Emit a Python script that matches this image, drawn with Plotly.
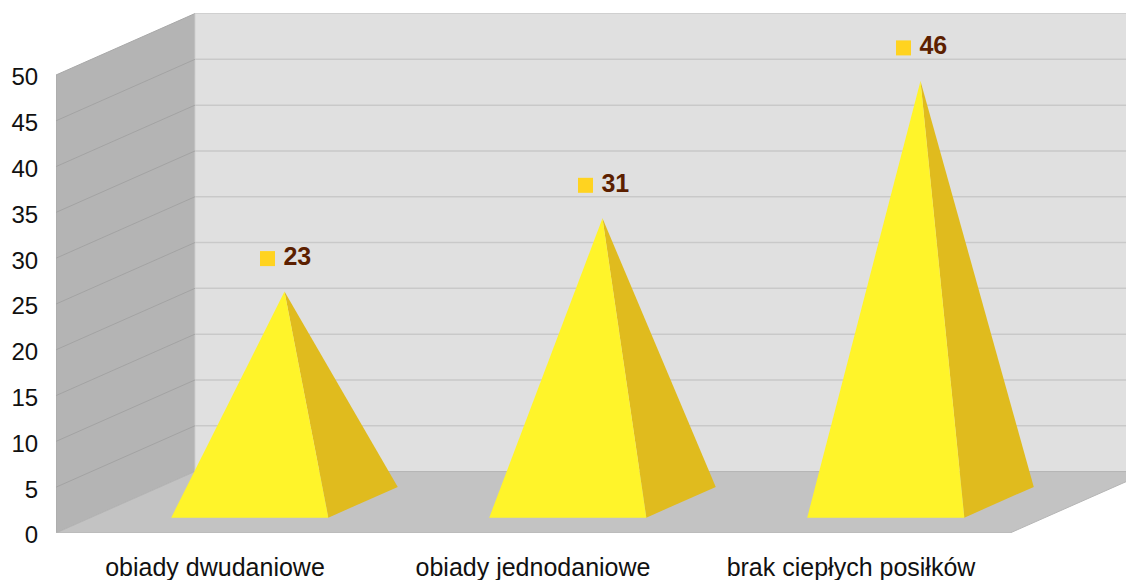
import plotly.graph_objects as go

# ---- data ----
categories = ["obiady dwudaniowe", "obiady jednodaniowe", "brak ciepłych posiłków"]
values = [23, 31, 46]
y_ticks = [0, 5, 10, 15, 20, 25, 30, 35, 40, 45, 50]

# ---- pseudo-3D projection settings (style) ----
DX = 0.437      # depth offset in category units (full depth)
DY = 6.71       # depth offset in value units (full depth)
HALF = 0.247    # half width of pyramid base (category units)
D0, D1 = 0.25, 0.75  # pyramid depth span
YMAX = 50
X_LEFT = -0.5
X_RIGHT = len(categories) - 0.5

C_LEFT = "#B4B4B4"
C_BACK = "#E0E0E0"
C_FLOOR = "#C3C3C3"
C_GRID_BACK = "#C9C9C9"
C_GRID_LEFT = "#A3A3A3"
C_FRONT = "#FFF42A"
C_SIDE = "#E0BB1E"
C_KEY = "#FFD320"
C_VAL = "#5C1F00"

PX_PER_CAT = 318.0
PX_PER_VAL = 9.16
# the page body has an 8px margin, so the figure is laid out 8px smaller
W, H = 1126, 572
L, B = 48, 47

fig = go.Figure()


def poly(xs, ys, color, line_color=None, lw=0):
    fig.add_trace(go.Scatter(
        x=list(xs) + [xs[0]], y=list(ys) + [ys[0]], mode="lines", fill="toself",
        fillcolor=color, line=dict(color=line_color or color, width=lw),
        hoverinfo="skip", showlegend=False))


# left wall
poly([X_LEFT, X_LEFT + DX, X_LEFT + DX, X_LEFT],
     [0, DY, YMAX + DY, YMAX], C_LEFT, "#A8A8A8", 1)
# back wall
XB_END = X_RIGHT + DX + 0.2
poly([X_LEFT + DX, XB_END, XB_END, X_LEFT + DX],
     [DY, DY, YMAX + DY, YMAX + DY], C_BACK, "#CFCFCF", 1)

# gridlines
gx_l, gy_l, gx_b, gy_b = [], [], [], []
for v in y_ticks[1:-1]:
    gx_l += [X_LEFT, X_LEFT + DX, None]
    gy_l += [v, v + DY, None]
    gx_b += [X_LEFT + DX, XB_END, None]
    gy_b += [v + DY, v + DY, None]
fig.add_trace(go.Scatter(x=gx_l, y=gy_l, mode="lines", line=dict(color=C_GRID_LEFT, width=1),
                         hoverinfo="skip", showlegend=False))
fig.add_trace(go.Scatter(x=gx_b, y=gy_b, mode="lines", line=dict(color=C_GRID_BACK, width=1.5),
                         hoverinfo="skip", showlegend=False))

# floor
poly([X_LEFT, X_RIGHT, X_RIGHT + DX, X_LEFT + DX],
     [0, 0, DY, DY], C_FLOOR, "#B5B5B5", 1)

# pyramids
for i, v in enumerate(values):
    fl = (i - HALF + D0 * DX, D0 * DY)
    fr = (i + HALF + D0 * DX, D0 * DY)
    br = (i + HALF + D1 * DX, D1 * DY)
    apex = (i + 0.5 * DX, v + 0.5 * DY)
    poly([fr[0], br[0], apex[0]], [fr[1], br[1], apex[1]], C_SIDE)
    poly([fl[0], fr[0], apex[0]], [fl[1], fr[1], apex[1]], C_FRONT)

# value labels: legend key square + bold value
apex_x = [i + 0.5 * DX for i in range(len(values))]
lab_y = [v + 0.5 * DY + 33 / PX_PER_VAL for v in values]
fig.add_trace(go.Scatter(
    x=[a - 17 / PX_PER_CAT for a in apex_x], y=lab_y, mode="markers",
    marker=dict(symbol="square", size=15, color=C_KEY, line=dict(width=0)),
    hoverinfo="skip", showlegend=False, cliponaxis=False))
fig.add_trace(go.Scatter(
    x=[a - 1 / PX_PER_CAT for a in apex_x], y=lab_y, mode="text",
    text=[str(v) for v in values], textposition="middle right",
    textfont=dict(family="Liberation Sans, Arial, sans-serif", size=25, color=C_VAL, weight="bold"),
    hoverinfo="skip", showlegend=False, cliponaxis=False))

fig.update_layout(
    width=W, height=H,
    margin=dict(l=L, r=0, t=0, b=B, autoexpand=False),
    paper_bgcolor="white", plot_bgcolor="white",
    showlegend=False,
    font=dict(family="Liberation Sans, Arial, sans-serif", size=24, color="#111111"),
    xaxis=dict(
        range=[X_LEFT, X_LEFT + (W - L) / PX_PER_CAT],
        tickmode="array", tickvals=list(range(len(categories))), ticktext=categories,
        showgrid=False, zeroline=False, showline=False,
        ticks="outside", ticklen=12, tickcolor="rgba(0,0,0,0)",
        tickfont=dict(size=25),
        fixedrange=True, automargin=False,
    ),
    yaxis=dict(
        range=[0, (H - B) / PX_PER_VAL],
        tickmode="array", tickvals=y_ticks, ticktext=[str(t) for t in y_ticks],
        showgrid=False, zeroline=False, showline=False,
        ticks="outside", ticklen=12, tickcolor="rgba(0,0,0,0)",
        tickfont=dict(size=24), ticklabelshift=2,
        fixedrange=True, automargin=False,
    ),
)

fig.write_html("out.html")
